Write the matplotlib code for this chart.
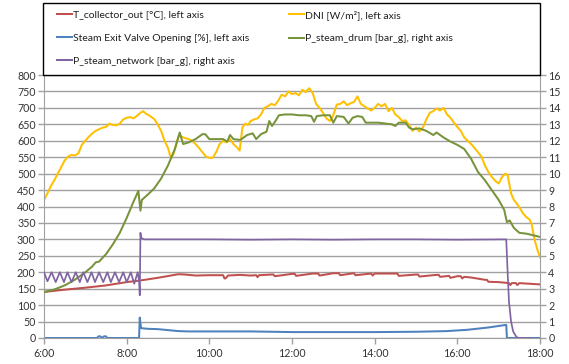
import matplotlib
matplotlib.use("Agg")
import matplotlib.pyplot as plt
from matplotlib.lines import Line2D
from matplotlib.patches import Rectangle

plt.rcParams["font.family"] = ["Lato", "DejaVu Sans"]

def hm(s):
    h, m = s.split(":")
    return int(h) + int(m) / 60.0

# ── Data ─────────────────────────────────────────────────────────────────────
dni_t = ["6:00","6:05","6:10","6:15","6:20","6:25","6:30","6:35","6:40","6:45","6:50","6:55",
         "7:00","7:05","7:10","7:15","7:20","7:25","7:30","7:35","7:40","7:45","7:50","7:55",
         "8:00","8:05","8:10","8:15","8:20","8:24","8:28","8:32","8:36","8:40","8:45","8:50","8:55",
         "9:00","9:04","9:08","9:12","9:16","9:20","9:25","9:30","9:35","9:40","9:45","9:50","9:55",
         "10:00","10:05","10:10","10:15","10:20","10:25","10:30","10:35","10:40","10:44","10:48","10:52","10:56",
         "11:00","11:05","11:10","11:15","11:20","11:25","11:30","11:35","11:40","11:45","11:50","11:55",
         "12:00","12:05","12:10","12:15","12:20","12:25","12:30","12:35","12:40","12:45","12:50","12:55",
         "13:00","13:05","13:10","13:15","13:20","13:25","13:30","13:35","13:40","13:45","13:50","13:55",
         "14:00","14:05","14:10","14:15","14:20","14:25","14:30","14:35","14:40","14:45","14:50","14:55",
         "15:00","15:05","15:10","15:15","15:20","15:25","15:30","15:35","15:40","15:45","15:50","15:55",
         "16:00","16:05","16:10","16:15","16:20","16:25","16:30","16:35","16:40","16:45","16:50","16:55",
         "17:00","17:05","17:10","17:13","17:18","17:22","17:26","17:30","17:35","17:40","17:45","17:48",
         "17:52","17:56","18:00"]
dni_v = [420,440,462,480,500,520,540,552,557,555,562,588,
         600,612,622,630,635,640,642,652,648,647,652,665,
         670,672,668,676,685,690,682,678,672,666,650,630,600,
         578,548,560,590,618,612,608,605,600,590,578,565,552,
         548,548,566,590,600,595,605,590,580,570,640,652,648,
         660,665,668,680,700,705,712,708,722,740,735,750,
         742,745,738,755,748,760,745,712,700,685,668,660,
         678,710,712,720,708,714,718,735,712,705,698,692,
         700,712,705,712,690,700,680,672,660,662,648,630,
         640,628,640,665,685,690,698,692,700,680,670,655,
         642,630,610,600,590,578,565,552,525,505,490,478,
         470,490,500,495,440,420,410,398,380,368,360,345,
         300,270,245]

drum_t = ["6:00","6:15","6:30","6:45","7:00","7:10","7:15","7:20","7:30","7:40","7:50",
          "8:00","8:10","8:17","8:20","8:22","8:30","8:40","8:50","9:00","9:10","9:17","9:22",
          "9:30","9:40","9:50","9:54","10:00","10:10","10:20","10:26","10:30","10:35","10:45","10:55",
          "11:03","11:08","11:15","11:23","11:27","11:31","11:36","11:41","11:50","12:00","12:10",
          "12:20","12:28","12:32","12:36","12:45","12:55","13:00","13:05","13:15","13:22","13:28",
          "13:35","13:42","13:47","13:55","14:05","14:15","14:25","14:30","14:35","14:45","14:50",
          "14:55","15:05","15:15","15:25","15:30","15:40","15:50","16:00","16:10","16:20","16:30",
          "16:40","16:50","17:00","17:08","17:12","17:16","17:22","17:30","17:40","17:50","18:00"]
drum_v = [2.8,2.95,3.2,3.55,4.0,4.35,4.6,4.65,5.1,5.7,6.4,
          7.3,8.3,8.95,7.75,8.4,8.7,9.1,9.7,10.5,11.5,12.5,11.8,
          11.9,12.1,12.4,12.4,12.1,12.1,12.1,11.95,12.35,12.1,12.05,12.35,
          12.45,12.1,12.4,12.55,13.2,12.9,13.2,13.55,13.6,13.6,13.55,
          13.55,13.5,13.15,13.5,13.55,13.55,13.1,13.5,13.45,13.05,13.4,
          13.5,13.45,13.1,13.1,13.1,13.05,13.0,12.9,13.1,13.1,12.8,
          12.7,12.75,12.6,12.35,12.5,12.2,11.95,11.75,11.5,10.9,10.1,
          9.6,9.0,8.4,7.8,7.05,7.15,6.7,6.4,6.35,6.25,6.15]

tcol_t = ["6:00","6:30","7:00","7:30","8:00","8:20","8:45","9:15","9:25","9:40","10:00","10:20",
          "10:22","10:24","10:27","10:45","11:00","11:08","11:10","11:12","11:30","11:33","11:35",
          "12:00","12:04","12:06","12:30","12:38","12:40","13:00","13:08","13:10","13:30","13:32",
          "13:55","13:57","14:00","14:30","14:33","14:35","15:00","15:03","15:05","15:30","15:33",
          "15:35","15:48","15:50","16:00","16:05","16:07","16:10","16:20","16:40","16:43","16:45",
          "17:00","17:15","17:17","17:19","17:25","17:27","17:30","18:00"]
tcol_v = [140,147,153,160,170,175,183,194,193,190,191,191,
          181,182,190,192,190,191,185,191,193,193,188,
          195,195,189,196,196,190,197,197,191,197,191,
          196,190,196,196,196,189,193,193,187,192,192,
          186,189,183,188,188,181,186,184,177,177,171,
          170,167,161,167,167,161,167,163]

net_t = ["6:00","6:05","6:11","6:17","6:23","6:29","6:34","6:40","6:46","6:52","6:57","7:03",
         "7:09","7:14","7:20","7:26","7:32","7:37","7:43","7:49","7:55","8:00","8:06","8:11",
         "8:16","8:18","8:19","8:20","8:21","8:25","9:00","10:00","11:00","12:00","13:00","14:00",
         "15:00","16:00","17:11","17:13","17:15","17:18","17:21","17:26","17:30","17:47"]
net_v = [4.0,3.45,4.0,3.4,4.0,3.4,4.0,3.4,4.0,3.4,4.0,3.4,
         4.0,3.4,4.0,3.4,4.0,3.4,4.0,3.4,4.0,3.4,4.0,3.3,
         4.0,3.5,2.6,6.4,6.1,6.0,6.0,6.0,5.98,6.0,5.98,6.0,
         6.0,5.98,6.0,4.0,2.2,1.0,0.4,0.05,0.0,0.0]

valve_t = ["6:00","7:17","7:19","7:22","7:24","7:27","7:30","7:32","8:18","8:19","8:20","8:21",
           "8:30","8:45","9:00","9:15","9:30","10:00","11:00","12:00","13:00","14:00","15:00",
           "15:45","16:15","16:45","17:11","17:12","18:00"]
valve_v = [0,0,5,5,0,5,5,0,0,62,45,30,
           28,27,24,21,20,20,20,18,18,18,19,
           21,25,32,40,0,0]

labels = ["T_collector_out [°C], left axis", "DNI [W/m²], left axis",
          "Steam Exit Valve Opening [%], left axis", "P_steam_drum [bar_g], right axis",
          "P_steam_network [bar_g], right axis"]
colors = ["#C0504D", "#FFC000", "#4F81BD", "#77933C", "#8064A2"]

# ── Figure ───────────────────────────────────────────────────────────────────
W, H = 569, 364
fig = plt.figure(figsize=(W / 100, H / 100), dpi=100)
ax = fig.add_axes([44 / W, 1 - 338 / H, 496 / W, 263 / H])
ax2 = ax.twinx()

lw = 1.45
ax.plot([hm(t) for t in tcol_t], tcol_v, color=colors[0], lw=lw)
ax.plot([hm(t) for t in dni_t], dni_v, color=colors[1], lw=lw)
ax.plot([hm(t) for t in valve_t], valve_v, color=colors[2], lw=lw)
ax2.plot([hm(t) for t in drum_t], drum_v, color=colors[3], lw=lw)
ax2.plot([hm(t) for t in net_t], net_v, color=colors[4], lw=lw * 0.85)

grid_c = "#A0A0A0"
txt_c = "#333333"
ax.set_xlim(6, 18)
ax.set_ylim(0, 800)
ax2.set_ylim(0, 16)
ax.set_yticks(range(0, 801, 50))
ax2.set_yticks(range(0, 17))
ax.set_xticks(range(6, 19, 2))
ax.set_xticklabels([f"{h}:00" for h in range(6, 19, 2)])
ax.grid(axis="y", color=grid_c, lw=1)
ax.set_axisbelow(True)
for a in (ax, ax2):
    for s in a.spines.values():
        s.set_visible(False)
    a.tick_params(colors=grid_c, labelcolor=txt_c, labelsize=7.7, length=4, width=1)
ax.spines["left"].set_visible(True)
ax.spines["bottom"].set_visible(True)
ax2.spines["right"].set_visible(True)
for s in (ax.spines["left"], ax.spines["bottom"], ax2.spines["right"]):
    s.set_color(grid_c)
ax.tick_params(axis="y", pad=2)
ax2.tick_params(axis="y", pad=2)

# legend box
fig.patches.append(Rectangle((43 / W, 1 - 75 / H), 497 / W, 72 / H, transform=fig.transFigure,
                             fill=False, edgecolor="black", lw=1))
hs = [Line2D([], [], color=c, lw=lw) for c in colors]
kw = dict(loc="upper left", frameon=False, fontsize=7.5, handlelength=1.4, handletextpad=0.15,
          labelspacing=1.35, borderpad=0, borderaxespad=0, labelcolor="#202020")
fig.legend([hs[0], hs[2], hs[4]], [labels[0], labels[2], labels[4]],
           bbox_to_anchor=(57 / W, 1 - 10 / H), **kw)
fig.legend([hs[1], hs[3]], [labels[1], labels[3]],
           bbox_to_anchor=(289 / W, 1 - 10 / H), **kw)

fig.savefig("out.png", dpi=100)
